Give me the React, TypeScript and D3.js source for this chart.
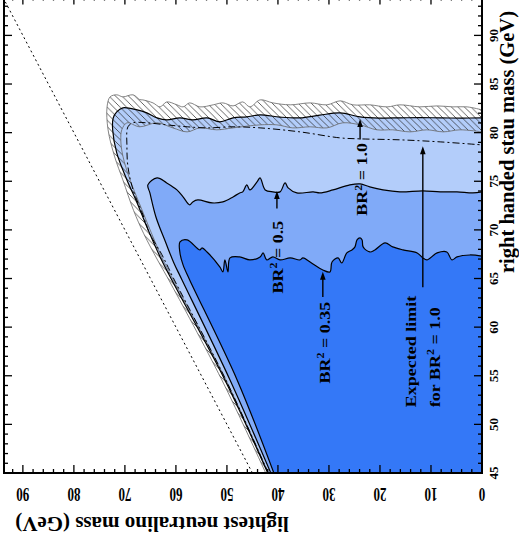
import React from "react";
import * as d3 from "d3";

// contours: [lightest neutralino mass, right handed stau mass] in GeV
const br035: [number, number][] = [
  [40.8, 45], [48.0, 54.57], [57.3, 64.85], [58.6, 66.4], [59.2, 67.6], [59.2, 68.76],
  [57.8, 68.97], [55.3, 67.94], [54.9, 68.14], [53.9, 67.73], [51.4, 66.19], [50.8, 65.68],
  [50.4, 66.91], [49.8, 65.68], [49.4, 67.12], [47.5, 67.22], [45.5, 66.91], [43.5, 67.22],
  [42.9, 67.63], [42.2, 66.91], [41.0, 67.22], [39.6, 66.91], [37.6, 67.12], [35.7, 66.91],
  [35.1, 67.12], [33.7, 66.7], [31.2, 65.88], [29.8, 65.68], [29.4, 66.7], [28.2, 67.12],
  [27.5, 66.6], [26.5, 67.63], [25.5, 67.94], [24.9, 68.25], [24.5, 68.97], [23.9, 69.17],
  [23.5, 68.97], [23.3, 68.25], [22.0, 67.73], [21.0, 67.94], [19.0, 68.66], [17.5, 68.25],
  [15.5, 67.94], [12.7, 67.63], [11.6, 67.12], [10.8, 66.91], [8.8, 67.63], [6.9, 67.73],
  [5.9, 66.91], [4.9, 67.22], [2.4, 67.42], [0, 67.3],
];

const br05: [number, number][] = [
  [41.4, 45], [49.4, 54.57], [58.8, 64.85], [60.4, 66.6], [62.0, 68.7], [63.9, 71.3],
  [65.1, 73.8], [65.5, 74.63], [63.7, 75.35], [61.8, 74.83], [59.8, 74.11], [58.6, 73.39],
  [57.3, 72.57], [56.7, 72.88], [55.7, 73.08], [52.9, 72.77], [50.8, 72.88], [48.8, 73.39],
  [47.5, 73.8], [46.9, 73.91], [46.1, 74.63], [45.5, 74.11], [44.1, 74.94], [43.5, 75.35],
  [42.5, 74.11], [41.0, 73.91], [39.6, 73.91], [38.6, 74.83], [38.0, 74.32], [36.3, 73.8],
  [33.1, 73.91], [31.8, 73.8], [29.2, 74.11], [25.9, 74.63], [23.9, 74.73], [22.0, 74.42],
  [19.4, 74.11], [16.1, 73.91], [11.6, 74.01], [8.2, 73.91], [4.9, 73.91], [1.8, 73.8],
  [0, 73.9],
];

const br10: [number, number][] = [
  [42.0, 45], [50.4, 54.57], [60.8, 64.85], [63.1, 67.22], [65.7, 70.31], [67.6, 72.77],
  [69.6, 75.14], [71.6, 77.92], [72.4, 80.29], [72.3, 81.5], [71.6, 82.14], [70.4, 82.55],
  [67.6, 82.34], [65.7, 82.03], [63.7, 81.52], [61.8, 81.31], [59.2, 81.52], [56.7, 81.31],
  [53.9, 81.52], [51.4, 81.11], [48.8, 81.52], [46.1, 81.62], [43.5, 81.83], [39.6, 81.6],
  [35.7, 81.52], [31.8, 81.8], [27.8, 82.03], [23.9, 81.62], [20.0, 81.5], [16.1, 81.52],
  [12.2, 81.55], [8.2, 81.52], [4.0, 81.5], [0, 81.52],
];

const bandOuter: [number, number][] = [
  [42.4, 45], [51.0, 54.57], [61.4, 64.85], [63.6, 66.9], [66.3, 69.6], [68.3, 72.0],
  [70.4, 75.14], [72.0, 77.51], [73.3, 80.29], [73.5, 82.65], [72.9, 83.68], [71.6, 83.89],
  [70.4, 83.68], [68.4, 83.89], [67.1, 83.4], [66.5, 83.37], [64.5, 83.06], [63.1, 82.65],
  [61.8, 83.16], [59.8, 82.86], [58.6, 82.65], [57.3, 83.06], [55.3, 82.65], [52.7, 82.86],
  [50.8, 83.06], [48.8, 82.75], [46.9, 83.16], [45.5, 82.65], [43.5, 83.37], [41.0, 83.06],
  [37.6, 82.86], [33.7, 83.06], [30.4, 82.86], [27.8, 83.27], [25.3, 82.86], [22.0, 82.86],
  [18.6, 82.65], [16.1, 82.86], [12.2, 82.65], [8.8, 82.75], [5.7, 82.65], [2.9, 82.65],
  [0, 82.34],
];

const bandInner: [number, number][] = [
  [41.9, 45], [50.2, 54.57], [60.5, 64.85], [62.8, 67.22], [65.3, 70.31], [67.2, 72.77],
  [69.0, 75.14], [70.4, 77.6], [70.8, 79.2], [70.6, 80.3], [69.6, 81.01], [67.1, 80.6],
  [63.7, 81.01], [60.6, 80.49], [57.8, 80.08], [55.3, 80.49], [52.0, 80.29], [48.8, 80.49],
  [43.5, 80.8], [40.2, 80.8], [37.1, 80.49], [33.7, 80.6], [30.4, 80.49], [27.3, 81.01],
  [23.9, 80.8], [20.6, 80.29], [17.5, 80.29], [14.1, 80.08], [10.8, 80.29], [7.6, 80.08],
  [4.3, 80.29], [0, 80.08],
];

const expected10: [number, number][] = [
  [41.9, 45], [50.2, 54.57], [60.3, 64.85], [62.8, 67.5], [65.2, 69.69], [66.6, 71.75],
  [68.4, 74.11], [69.4, 76.48], [69.6, 78.54], [69.4, 80.6], [68.4, 81.01], [65.7, 81.01],
  [61.8, 80.8], [57.8, 80.6], [53.9, 80.49], [48.8, 80.6], [43.5, 80.49], [35.7, 80.08],
  [27.8, 79.46], [23.9, 79.36], [16.1, 79.26], [8.2, 79.05], [0, 78.74],
];

// neutralino = stau
const kinematicLimit: [number, number][] = [[45, 45], [93.7, 93.7]];

const stauTickLabels = [45, 50, 55, 60, 65, 70, 75, 80, 85, 90];
const neutralinoTickLabels = [0, 10, 20, 30, 40, 50, 60, 70, 80, 90];

// label anchor (n, s) and arrow (n, from s, to s)
const brLabels = [
  { value: "0.5", n: 39.0, s: 67.2, arrowN: 40.2, from: 72.2, to: 74.0 },
  { value: "0.35", n: 29.8, s: 58.4, arrowN: 31.2, from: 63.1, to: 65.7 },
  { value: "1.0", n: 22.5, s: 75.2, arrowN: 23.9, from: 79.3, to: 81.4 },
];
const expectedLabel = { n1: 12.9, s1: 57.5, n2: 8.3, s2: 56.9, arrowN: 11.6, from: 64.1, to: 78.6 };

const FONT = "'Liberation Serif', 'Times New Roman', serif";
const LIGHT = "#b3cdfa";
const MEDIUM = "#80aaf8";
const DARK = "#3478f7";

export default function App() {
  const W = 519;
  const H = 545;
  const x = d3.scaleLinear().domain([0, 93.7]).range([482, 4]); // neutralino -> screen x
  const y = d3.scaleLinear().domain([45, 94]).range([473, -3.5]); // stau -> screen y

  const line = d3
    .line<[number, number]>()
    .x((d) => x(d[0]))
    .y((d) => y(d[1]))
    .curve(d3.curveCatmullRom.alpha(0.5));
  const straight = d3
    .line<[number, number]>()
    .x((d) => x(d[0]))
    .y((d) => y(d[1]));

  const region = (pts: [number, number][]) => `${line(pts)}L${x(0)},${y(45)}Z`;

  const stauMinor = d3.range(45, 94, 1);
  const nMinor = d3.range(0, 94, 2);

  const arrow = (n: number, from: number, to: number, key: string) => {
    const ax = x(n);
    const y0 = y(from);
    const y1 = y(to);
    return (
      <g key={key}>
        <line x1={ax} x2={ax} y1={y0} y2={y1 + 6} stroke="#000" strokeWidth={1.4} />
        <path d={`M${ax},${y1}L${ax - 2.8},${y1 + 8}L${ax + 2.8},${y1 + 8}Z`} fill="#000" />
      </g>
    );
  };

  return (
    <svg width={W} height={H} style={{ display: "block", position: "absolute", left: 0, top: 0 }}>
      <defs>
        <clipPath id="plot">
          <rect x={4} y={-3.5} width={478} height={476.5} />
        </clipPath>
        <pattern id="hatch" patternUnits="userSpaceOnUse" width={6.5} height={6.5}>
          <path d="M0,0L6.5,6.5M-1,5.5L1,7.5M5.5,-1L7.5,1" stroke="#222" strokeWidth={0.7} />
        </pattern>
      </defs>
      <rect width={W} height={H} fill="#fff" />

      <g clipPath="url(#plot)">
        <path d={region(br10)} fill={LIGHT} />
        <path d={region(br05)} fill={MEDIUM} />
        <path d={region(br035)} fill={DARK} />
        <path d={region(bandOuter) + region(bandInner)} fill="url(#hatch)" fillRule="evenodd" />

        <path d={line(bandOuter) ?? ""} fill="none" stroke="#666" strokeWidth={0.8} />
        <path d={line(bandInner) ?? ""} fill="none" stroke="#666" strokeWidth={0.8} />
        <path d={line(br10) ?? ""} fill="none" stroke="#000" strokeWidth={1.2} />
        <path d={line(br05) ?? ""} fill="none" stroke="#000" strokeWidth={1.2} />
        <path d={line(br035) ?? ""} fill="none" stroke="#000" strokeWidth={1.2} />
        <path
          d={line(expected10) ?? ""}
          fill="none"
          stroke="#000"
          strokeWidth={1}
          strokeDasharray="7,3,2,3"
        />
        <path
          d={straight(kinematicLimit) ?? ""}
          fill="none"
          stroke="#000"
          strokeWidth={1}
          strokeDasharray="2,3"
        />

        {brLabels.map((l) => arrow(l.arrowN, l.from, l.to, "a" + l.value))}
        {arrow(expectedLabel.arrowN, expectedLabel.from, expectedLabel.to, "exp")}
      </g>

      {/* annotations */}
      <g fontFamily={FONT} fontWeight="bold" fill="#000">
        {brLabels.map((l) => (
          <text
            key={l.value}
            transform={`translate(${x(l.n)},${y(l.s)}) scale(0.8,1) rotate(-90)`}
            textAnchor="middle"
            fontSize={18}
          >
            BR
            <tspan dy={-7} fontSize={12}>
              2
            </tspan>
            <tspan dy={7}>{` = ${l.value}`}</tspan>
          </text>
        ))}
        <text
          transform={`translate(${x(expectedLabel.n1)},${y(expectedLabel.s1)}) scale(0.8,1) rotate(-90)`}
          textAnchor="middle"
          fontSize={18}
        >
          Expected limit
        </text>
        <text
          transform={`translate(${x(expectedLabel.n2)},${y(expectedLabel.s2)}) scale(0.8,1) rotate(-90)`}
          textAnchor="middle"
          fontSize={18}
        >
          for BR
          <tspan dy={-7} fontSize={12}>
            2
          </tspan>
          <tspan dy={7}> = 1.0</tspan>
        </text>
      </g>

      {/* frame */}
      <g stroke="#000" fill="none">
        <rect x={4} y={-3.5} width={478} height={476.5} strokeWidth={2} />
        {stauMinor.map((s) => {
          const len = s % 5 === 0 ? 8 : 4;
          return (
            <g key={"s" + s}>
              <line x1={482} x2={482 - len} y1={y(s)} y2={y(s)} strokeWidth={1.3} />
              <line x1={4} x2={4 + len} y1={y(s)} y2={y(s)} strokeWidth={1.3} />
            </g>
          );
        })}
        {nMinor.map((n) => {
          const len = n % 10 === 0 ? 8 : 4;
          return (
            <g key={"n" + n}>
              <line x1={x(n)} x2={x(n)} y1={473} y2={473 - len} strokeWidth={1.3} />
              <line x1={x(n)} x2={x(n)} y1={-3.5} y2={-3.5 + len} strokeWidth={1.3} />
            </g>
          );
        })}
      </g>

      {/* axis labels */}
      <g fontFamily={FONT} fontWeight="bold" fill="#000">
        {stauTickLabels.map((s) => (
          <text
            key={"sl" + s}
            transform={`translate(498,${y(s)}) rotate(-90)`}
            textAnchor="middle"
            fontSize={13}
          >
            {s}
          </text>
        ))}
        {neutralinoTickLabels.map((n) => (
          <text
            key={"nl" + n}
            transform={`translate(${x(n)},488) scale(1,1.4) rotate(180)`}
            textAnchor="middle"
            fontSize={13}
          >
            {n}
          </text>
        ))}
        <text transform={`translate(514,142) rotate(-90)`} textAnchor="middle" fontSize={20.5}>
          right handed stau mass (GeV)
        </text>
        <text transform={`translate(152,517) rotate(180)`} textAnchor="middle" fontSize={21}>
          lightest neutralino mass (GeV)
        </text>
      </g>
    </svg>
  );
}
